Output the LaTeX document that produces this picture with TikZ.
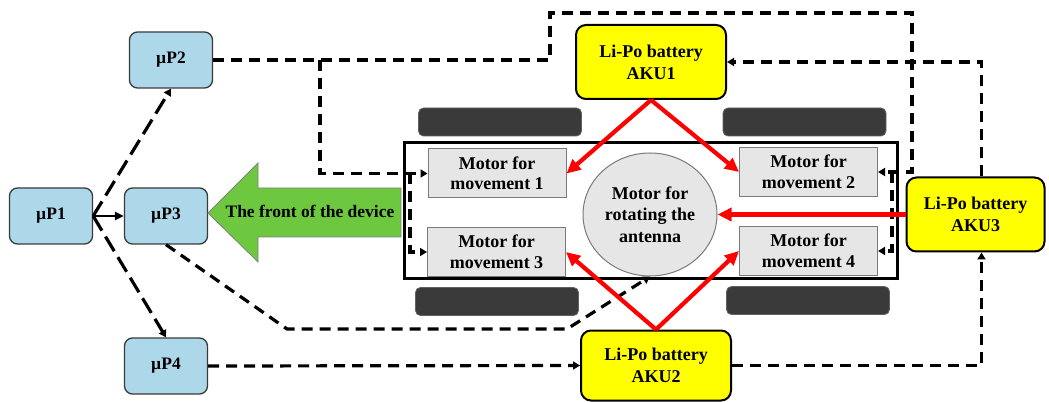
\documentclass[tikz,border=0pt]{standalone}
\usepackage{fontspec}
\setmainfont{Liberation Serif}
\usetikzlibrary{arrows.meta,shapes.geometric}
\definecolor{ctrlblue}{HTML}{ADD8EA}
\definecolor{ctrledge}{HTML}{3A3A3A}
\definecolor{motorgray}{HTML}{E6E6E6}
\definecolor{motoredge}{HTML}{7A7A7A}
\definecolor{wheelgray}{HTML}{3A3A3A}
\definecolor{frontgreen}{HTML}{6DC83F}
\definecolor{batyellow}{HTML}{FFFF00}
\definecolor{powerred}{HTML}{FF0000}
\tikzset{
  ctrl/.style={draw=ctrledge, fill=ctrlblue, line width=1.3pt, rounded corners=8pt,
    minimum width=83pt, minimum height=56pt, inner sep=0pt,
    font=\fontsize{17.5}{20}\selectfont\bfseries},
  battery/.style={draw=black, fill=batyellow, line width=2pt, rounded corners=10pt,
    minimum width=150pt, minimum height=74pt, inner sep=0pt, align=center,
    font=\fontsize{18}{22}\selectfont\bfseries},
  motorbox/.style={draw=motoredge, fill=motorgray, line width=1pt,
    minimum width=138pt, minimum height=49pt, inner sep=0pt, align=center,
    font=\fontsize{18}{20.5}\selectfont\bfseries},
  wheel/.style={draw=wheelgray!80!white, fill=wheelgray, line width=0.8pt, rounded corners=5pt,
    minimum width=163pt, minimum height=28pt, inner sep=0pt},
  chassis/.style={draw=black, line width=3pt, minimum width=493pt, minimum height=136pt, inner sep=0pt},
  signal/.style={draw=black, line width=3.2pt, dash pattern=on 11pt off 7pt},
  command/.style={draw=black, line width=3.2pt, dash pattern=on 17pt off 7pt},
  sigtip/.style={-{Triangle[length=7pt,width=8pt]}},
  power/.style={draw=powerred, line width=4.2pt, -{Triangle[length=14pt,width=13pt]}},
}
\begin{document}
\begin{tikzpicture}[x=1pt,y=-1pt]
\useasboundingbox (0,0) rectangle (1049,403);

% chassis, wheels and motors
\node[wheel] (wtl) at (500,122) {};
\node[wheel] (wtr) at (804.5,122) {};
\node[wheel] (wbl) at (497,301.5) {};
\node[wheel] (wbr) at (808,300.5) {};
\node[chassis] (frame) at (650.5,211) {};
\node[motorbox] (m1) at (497,173.5) {Motor for\\movement 1};
\node[motorbox] (m2) at (808.5,172) {Motor for\\movement 2};
\node[motorbox] (m3) at (496.5,252) {Motor for\\movement 3};
\node[motorbox] (m4) at (808.5,251) {Motor for\\movement 4};
\node[ellipse, draw=motoredge, fill=motorgray, line width=1pt, minimum width=134pt,
  minimum height=123pt, inner sep=0pt, align=center,
  font=\fontsize{18}{21.5}\selectfont\bfseries] (rot) at (650,214.5)
  {Motor for\\rotating the\\antenna};

% controllers
\node[ctrl] (p1) at (51,216) {\textmu P1};
\node[ctrl] (p2) at (171,60) {\textmu P2};
\node[ctrl] (p3) at (166,216) {\textmu P3};
\node[ctrl] (p4) at (166,366) {\textmu P4};

% batteries
\node[battery] (aku1) at (651,62) {Li-Po battery\\AKU1};
\node[battery, minimum height=70pt] (aku2) at (656,365.5) {Li-Po battery\\AKU2};
\node[battery, minimum width=138pt] (aku3) at (975.5,214.5) {Li-Po battery\\AKU3};

% direction of travel
\draw[draw=gray, line width=0.8pt, fill=frontgreen]
  (208,213) -- (258,163) -- (258,188) -- (401,188) -- (401,237) -- (258,237) -- (258,262) -- cycle;
\node[font=\fontsize{17.5}{20}\selectfont\bfseries] (front) at (310,211) {The front of the device};

% command links between controllers
\draw[line width=2.2pt, -{Triangle[length=9pt,width=8pt]}] (p1.east) -- (p3.west);
\draw[command, sigtip] (p1.east) -- (p2.south);
\draw[command, sigtip] (p1.east) -- (p4.north);

% signal links
\coordinate (b1) at (320,60);
\coordinate (b2) at (410,173.5);
\coordinate (b3) at (892,172);
\draw[signal, sigtip] (p2.east) -- (550,60) -- (550,13) -- (912,13) |- (m2.east);
\draw[signal, sigtip] (b1) |- (m1.west);
\draw[signal, sigtip] (b2) |- (m3.west);
\draw[signal, sigtip] (b3) |- (m4.east);
\draw[signal, sigtip] (p3.south) -- (287,329) -- (567,329) -- (rot.south);
\draw[signal, sigtip] (p4.east) -- (aku2.west);
\draw[signal, sigtip] (aku2.east) -| ([xshift=6pt]aku3.south);
\draw[signal, sigtip] ([xshift=6pt]aku3.north) |- (aku1.east);

% power lines
\draw[power] (aku1.south) -- (m1.east);
\draw[power] (aku1.south) -- (m2.west);
\draw[power] (aku2.north) -- (m3.east);
\draw[power] (aku2.north) -- (m4.west);
\draw[power] (aku3.west) -- (rot.east);
\end{tikzpicture}
\end{document}
